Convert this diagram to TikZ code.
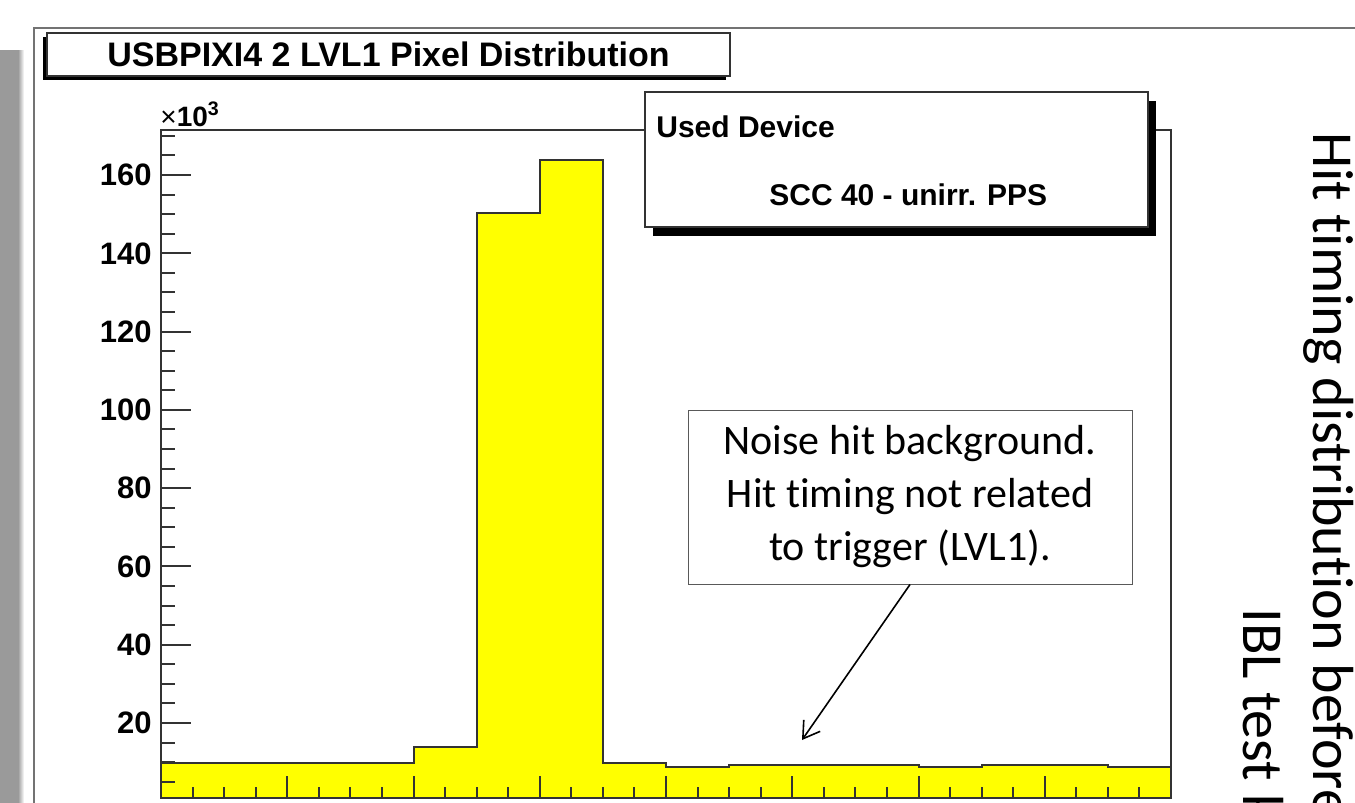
\documentclass[tikz,border=0pt]{standalone}
\usepackage{fontspec}
\setmainfont{Liberation Sans}
\newfontfamily\slidefont[Ligatures=NoCommon]{Carlito}
\usetikzlibrary{positioning,arrows.meta,shadows}

\definecolor{rootline}{HTML}{333333}
\definecolor{slideshade}{HTML}{9A9A9A}
\definecolor{histfill}{HTML}{FFFF00}

\begin{document}
\begin{tikzpicture}[x=0.5pt, y=-0.5pt,
  axisframe/.style = {draw=rootline, line width=1pt},
  tickmark/.style = {draw=rootline, line width=1pt},
  rootbox/.style = {draw=rootline, fill=white, line width=0.7pt, inner sep=0pt},
  titleshadow/.style = {general shadow={fill=black, shadow xshift=-2pt, shadow yshift=-2pt}},
  legendshadow/.style = {general shadow={fill=black, shadow xshift=4pt, shadow yshift=-4.5pt}},
  ticklab/.style = {inner sep=0pt, font=\bfseries\fontsize{15.5pt}{18pt}\selectfont},
  devtext/.style = {inner sep=0pt, anchor=base west,
    font=\bfseries\fontsize{15pt}{18pt}\selectfont},
  notebox/.style = {draw=black!65, line width=0.5pt, fill=white, align=center,
    inner sep=0pt, minimum width=222pt, minimum height=87pt,
    font=\slidefont\fontsize{21pt}{26.5pt}\selectfont},
  slidetext/.style = {inner sep=0pt, rotate=-90, anchor=base west,
    font=\slidefont\fontsize{29pt}{35pt}\selectfont},
  arr/.style = {line width=0.8pt, -{Straight Barb[length=8pt,width=10pt]}}
  ]
  \useasboundingbox (0,0) rectangle (1355,803);

  % slide edge and canvas
  \fill[slideshade] (0,50) rectangle (18,803);
  \shade[left color=slideshade, right color=white] (18,50) rectangle (24,803);
  \draw[black!55, line width=0.8pt] (34,803) -- (34,28) -- (1355,28);

  % histogram: x in bins, y in units of 10^3
  \begin{scope}[shift={(161,801.3)}, x=31.5625pt, y=1.957pt]
    \fill[histfill] (0,0.85) -- (0,9.8) -- (4,9.8) -- (4,13.9) -- (5,13.9)
      -- (5,150.3) -- (6,150.3) -- (6,163.8) -- (7,163.8) -- (7,9.8)
      -- (8,9.8) -- (8,8.8) -- (9,8.8) -- (9,9.3) -- (12,9.3) -- (12,8.8)
      -- (13,8.8) -- (13,9.3) -- (15,9.3) -- (15,8.8) -- (16,8.8)
      -- (16,0.85) -- cycle;
    \draw[rootline, line width=1pt] (0,9.8) -- (4,9.8) -- (4,13.9) -- (5,13.9)
      -- (5,150.3) -- (6,150.3) -- (6,163.8) -- (7,163.8) -- (7,9.8)
      -- (8,9.8) -- (8,8.8) -- (9,8.8) -- (9,9.3) -- (12,9.3) -- (12,8.8)
      -- (13,8.8) -- (13,9.3) -- (15,9.3) -- (15,8.8) -- (16,8.8);
    \foreach \t in {0.5,1,...,15.5}
      \draw[tickmark] (\t,0.85) -- ++(0,5.5pt);
    \foreach \t in {2,4,...,14}
      \draw[tickmark] (\t,0.85) -- ++(0,11pt);
    \foreach \v in {5,10,...,170}
      \draw[tickmark] (0,\v) -- ++(7pt,0);
    \foreach \v in {20,40,...,160} {
      \draw[tickmark] (0,\v) -- ++(15pt,0);
      \node[ticklab, anchor=east] at ([xshift=-4.5pt]0,\v) {\v};
    }
    \draw[axisframe] (0,0.85) rectangle (16,171.5);
  \end{scope}

  \node (expo) [anchor=base west, inner sep=0pt,
    font=\bfseries\fontsize{14pt}{16pt}\selectfont] at (160,126)
    {{\mdseries ×}10\textsuperscript{3}};

  % title and legend
  \node (title) [rootbox, titleshadow, minimum width=341.5pt, minimum height=21.5pt,
    font=\bfseries\fontsize{17pt}{20pt}\selectfont] at (388.5,54.5)
    {USBPIXI4 2 LVL1 Pixel Distribution};
  \node (devbox) [rootbox, legendshadow, minimum width=251.5pt,
    minimum height=67.5pt] at (896.5,159.5) {};
  \node (devhead) [devtext] at (656,137) {Used Device};
  \node (devname) [devtext] at (769,205) {SCC 40 - unirr. PPS};

  % annotation
  \node (note) [notebox] at (910,497)
    {Noise hit background.\\Hit timing not related\\to trigger (LVL1).};
  \coordinate (noisebg) at (802,740);
  \draw[arr] (note.south) -- (noisebg);

  % slide text
  \node (slidehead) [slidetext] at (1313,132) {Hit timing distribution before};
  \node (slidesub) [slidetext] at (1243,608) {IBL test k};
\end{tikzpicture}
\end{document}
